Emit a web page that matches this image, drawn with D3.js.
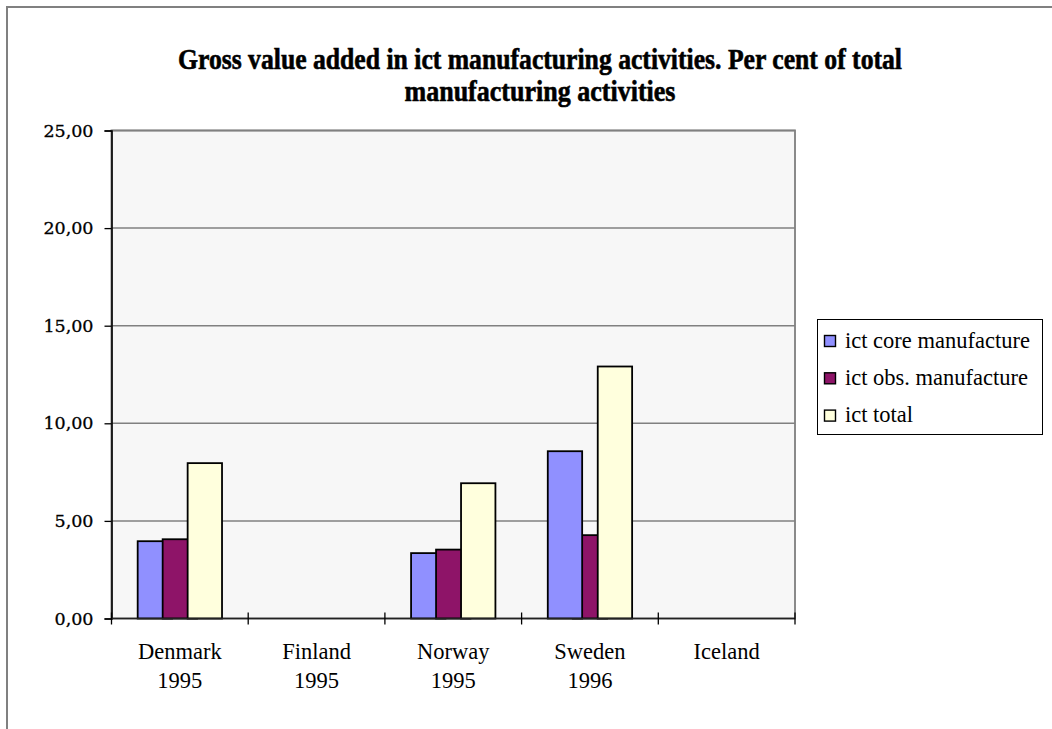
<!DOCTYPE html>
<html>
<head>
<meta charset="utf-8">
<script src="https://cdn.jsdelivr.net/npm/d3@7"></script>
<style>
  html, body { margin: 0; padding: 0; background: #ffffff; }
  svg { display: block; }
</style>
</head>
<body>
<div id="chart"></div>
<script>
// Countries (with reference year) along the x axis
const categories = ["Denmark|1995", "Finland|1995", "Norway|1995", "Sweden|1996", "Iceland|"];
// Series names shown in the legend
const seriesNames = ["ict core manufacture", "ict obs. manufacture", "ict total"];
const seriesColors = ["#9090ff", "#8e1468", "#ffffdd"];
// Per cent of total manufacturing gross value added (null = no data)
const coreValues  = [3.96, null, 3.35, 8.57, null];
const obsValues   = [4.06, null, 3.53, 4.27, null];
const totalValues = [7.96, null, 6.93, 12.91, null];
// Y axis ticks
const yTicks = [0, 5, 10, 15, 20, 25];
const titleLines = ["Gross value added in ict manufacturing activities. Per cent of total",
                    "manufacturing activities"];

const W = 1052, H = 729;
const plot = { left: 111.5, right: 795, top: 130.5, bottom: 618.5 };

const svg = d3.select("#chart").append("svg")
  .attr("width", W).attr("height", H);

// Outer chart frame
svg.append("rect")
  .attr("x", 7).attr("y", 7).attr("width", W + 20).attr("height", H + 20)
  .attr("fill", "#ffffff").attr("stroke", "#808080").attr("stroke-width", 2);

const serif = "'Liberation Serif', 'Times New Roman', serif";

// Title: heavy, condensed bold serif
const titleWidths = [724, 271];
titleLines.forEach((t, i) => {
  svg.append("text")
    .attr("x", 540).attr("y", 69 + i * 32)
    .attr("text-anchor", "middle")
    .attr("font-family", serif).attr("font-weight", "bold")
    .attr("font-size", 30)
    .attr("stroke", "#000").attr("stroke-width", 0.6)
    .attr("textLength", titleWidths[i]).attr("lengthAdjust", "spacingAndGlyphs")
    .attr("fill", "#000")
    .text(t);
});

const y = d3.scaleLinear().domain([0, 25]).range([plot.bottom, plot.top]);
const x0 = d3.scaleBand().domain(categories).range([plot.left, plot.right]).padding(0);
const groupWidth = x0.bandwidth() * 0.617;
const barW = groupWidth * 0.4076;
const x1 = d3.scalePoint().domain(seriesNames).range([0, groupWidth - barW]);

// Plot area background and frame
svg.append("rect")
  .attr("x", plot.left).attr("y", plot.top)
  .attr("width", plot.right - plot.left).attr("height", plot.bottom - plot.top)
  .attr("fill", "#f7f7f7").attr("stroke", "#8a8a8a").attr("stroke-width", 2);

// Horizontal gridlines
svg.append("g").selectAll("line")
  .data(yTicks.filter(v => v > 0))
  .join("line")
  .attr("x1", plot.left).attr("x2", plot.right)
  .attr("y1", d => y(d)).attr("y2", d => y(d))
  .attr("stroke", "#808080").attr("stroke-width", 1.5);

// Bars: within each group the taller bar is painted last
const valuesBySeries = [coreValues, obsValues, totalValues];
const barData = [];
categories.forEach((c, ci) => {
  const group = seriesNames
    .map((s, si) => ({ cat: c, series: s, si, value: valuesBySeries[si][ci] }))
    .filter(d => d.value != null)
    .sort((a, b) => a.value - b.value);
  barData.push(...group);
});

svg.append("g").selectAll("rect")
  .data(barData)
  .join("rect")
  .attr("x", d => x0(d.cat) + (x0.bandwidth() - groupWidth) / 2 + x1(d.series))
  .attr("y", d => y(d.value))
  .attr("width", barW)
  .attr("height", d => y(0) - y(d.value))
  .attr("fill", d => seriesColors[d.si])
  .attr("stroke", "#000").attr("stroke-width", 1.8);

// Y axis
const fmt = d3.formatLocale({ decimal: ",", thousands: ".", grouping: [3], currency: ["", ""] }).format(".2f");
const yAxis = d3.axisLeft(y).tickValues(yTicks).tickSize(7).tickFormat(fmt);
const yg = svg.append("g").attr("transform", `translate(${plot.left},0)`).call(yAxis);
yg.select(".domain").attr("stroke", "#000").attr("stroke-width", 1.6);
yg.selectAll(".tick line").attr("stroke", "#000").attr("stroke-width", 1.3);
yg.selectAll(".tick text")
  .attr("x", -18)
  .attr("font-family", "'DejaVu Serif', serif")
  .attr("font-size", 17.5)
  .attr("stroke", "#000").attr("stroke-width", 0.3)
  .attr("fill", "#000");

// X axis line and category separators
svg.append("line")
  .attr("x1", plot.left).attr("x2", plot.right)
  .attr("y1", y(0)).attr("y2", y(0))
  .attr("stroke", "#222").attr("stroke-width", 1.6);
const bounds = categories.map(c => x0(c)).concat([plot.right]);
svg.append("g").selectAll("line")
  .data(bounds)
  .join("line")
  .attr("x1", d => d).attr("x2", d => d)
  .attr("y1", y(0) - 6).attr("y2", y(0) + 6)
  .attr("stroke", "#000").attr("stroke-width", 1.3);

// Category labels (two lines: country, year)
const xl = svg.append("g").selectAll("text")
  .data(categories)
  .join("text")
  .attr("text-anchor", "middle")
  .attr("font-family", serif).attr("font-size", 22.5)
  .attr("fill", "#000");
xl.each(function (c) {
  const parts = c.split("|");
  const cx = x0(c) + x0.bandwidth() / 2;
  parts.forEach((p, i) => {
    if (!p) return;
    d3.select(this).append("tspan")
      .attr("x", cx).attr("y", 659 + i * 29)
      .text(p);
  });
});

// Legend
const lg = svg.append("g");
lg.append("rect")
  .attr("x", 817.5).attr("y", 319.5).attr("width", 225).attr("height", 115)
  .attr("fill", "#ffffff").attr("stroke", "#000").attr("stroke-width", 1);
seriesNames.forEach((s, i) => {
  const cy = 341 + i * 37.3;
  lg.append("rect")
    .attr("x", 824.5).attr("y", cy - 5.5).attr("width", 11).attr("height", 11)
    .attr("fill", seriesColors[i]).attr("stroke", "#000").attr("stroke-width", 1.4);
  lg.append("text")
    .attr("x", 845).attr("y", cy + 6.5)
    .attr("font-family", serif).attr("font-size", 22.5)
    .attr("fill", "#000")
    .text(s);
});
</script>
</body>
</html>
